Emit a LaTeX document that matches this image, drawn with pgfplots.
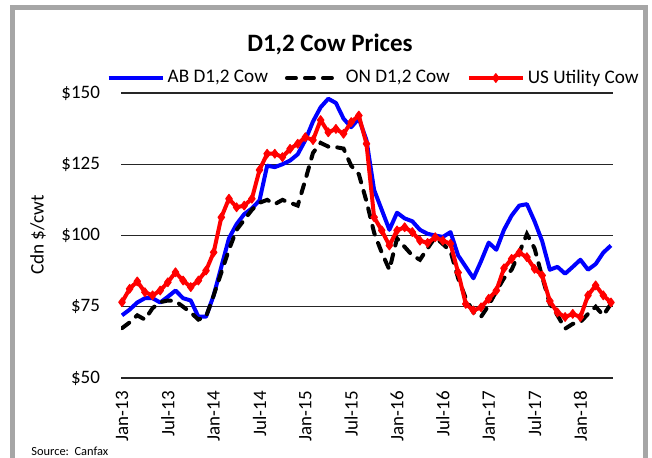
\documentclass[border=0pt]{standalone}
\usepackage{pgfplots}
\usepackage{pgfplotstable}
\pgfplotsset{compat=1.18}
\usepackage{fontspec}
\setmainfont{Carlito}

\pgfplotstableread{
i ab on us
0 72 67.5 76.6
1 74 69.5 81.3
2 76.5 72 83.9
3 78 70.5 80.1
4 78 74.5 79
5 76.5 76.6 80.7
6 78.5 77.2 83.6
7 80.7 77 87.1
8 78 75 84.2
9 77.2 73 81.9
10 71.5 70.5 84.2
11 71.5 71.5 87.7
12 79 79 94.1
13 89 87 106.4
14 99 95 112.9
15 104 102 109.9
16 107.5 105.5 110.5
17 109.5 109 112.9
18 112.3 111.5 123
19 124.5 112.5 128.7
20 124 111 128.7
21 125 112.5 127.5
22 126.3 111.5 130.4
23 128.5 110.5 132.2
24 133.5 119.5 134.5
25 140 129 133.5
26 145 132.5 140.5
27 148 131.2 136.2
28 146.5 131 137.4
29 141 130.5 135.7
30 138 124.5 139.8
31 141 121.5 142.1
32 133.5 112 132.2
33 116 101 106.4
34 109 94 101.8
35 102 88 96.5
36 108 99 101.8
37 106 96 102.9
38 105 93 101.2
39 102 91.5 98.2
40 100.6 95.5 97.4
41 100 99.4 99.4
42 99.5 97 98.2
43 101.2 94.5 97.1
44 93 85 87
45 89 78 76
46 85 73 73.7
47 91 71.5 74.8
48 97.5 75.5 77.8
49 95 80.5 80.7
50 102 85 88.5
51 107 88 91.8
52 110.5 94 94
53 111 100.5 92.4
54 105 95.5 88.3
55 98 85.5 86
56 88 76 77
57 89 72 73
58 86.6 67.3 71.4
59 89 69 72.5
60 91.5 69.6 71.4
61 88 72.5 79
62 90 75 82.5
63 94 72 79
64 96.5 76 76.5
}\datatable

\definecolor{framegray}{RGB}{166,166,166}

\begin{document}
\begin{tikzpicture}
\useasboundingbox (0,0) rectangle (326pt,-228.5pt);
\fill[white] (0,0) rectangle (326pt,-228.5pt);
\begin{scope}
\clip (0,0) rectangle (326pt,-228.5pt);
\draw[line width=2.5pt, draw=framegray] (6.25pt,-3.75pt) rectangle (322.5pt,-245pt);
\end{scope}
\node[font=\fontsize{12.5}{15}\selectfont\bfseries] at (165pt,-22pt) {D1,2 Cow Prices};
\begin{axis}[
  at={(60.5pt,-189pt)}, anchor=south west,
  scale only axis, width=246pt, height=142.5pt,
  xmin=-0.13, xmax=64.27, ymin=50, ymax=150,
  ytick={50,75,100,125,150},
  yticklabels={\$50,\$75,\$100,\$125,\$150},
  xtick={0,6,...,60},
  xticklabels={Jan-13,Jul-13,Jan-14,Jul-14,Jan-15,Jul-15,Jan-16,Jul-16,Jan-17,Jul-17,Jan-18},
  ymajorgrids,
  grid style={black!85, line width=0.6pt},
  axis line style={draw=none},
  major tick length=0pt,
  yticklabel style={font=\fontsize{9.5}{11}\selectfont},
  yticklabel shift=7pt,
  xticklabel style={rotate=90, anchor=east, font=\fontsize{9.5}{11}\selectfont},
  xticklabel shift=3pt,
  legend columns=3,
  legend style={at={(-0.03,1.0526)}, anchor=west, draw=none, fill=none,
    inner sep=0pt, font=\fontsize{9.6}{11}\selectfont,
    nodes={inner sep=1.5pt},
    /tikz/every even column/.append style={column sep=7pt}},
  legend image code/.code={\draw[mark repeat=2,mark phase=2,#1] plot coordinates {(0pt,0pt) (13.5pt,0pt) (27pt,0pt)};},
]
\addplot[color=blue, line width=2pt, line join=round] table[x=i, y=ab] {\datatable};
\addlegendentry{AB D1,2 Cow}
\addplot[color=black, line width=2pt, line cap=round, dash pattern=on 4.5pt off 4.5pt] table[x=i, y=on] {\datatable};
\addlegendentry{ON D1,2 Cow}
\addplot[color=red, line width=2pt, line join=round, mark=diamond*, mark size=2.2pt, mark options={solid, fill=red, draw=red, line width=0.5pt}] table[x=i, y=us] {\datatable};
\addlegendentry{US Utility Cow}
\end{axis}
\node[rotate=90, font=\fontsize{9.6}{11}\selectfont] at (19pt,-117.5pt) {Cdn \$/cwt};
\node[anchor=west, font=\fontsize{6.2}{7}\selectfont, inner sep=0pt] at (15.5pt,-225.5pt) {Source:~~Canfax};
\end{tikzpicture}
\end{document}
